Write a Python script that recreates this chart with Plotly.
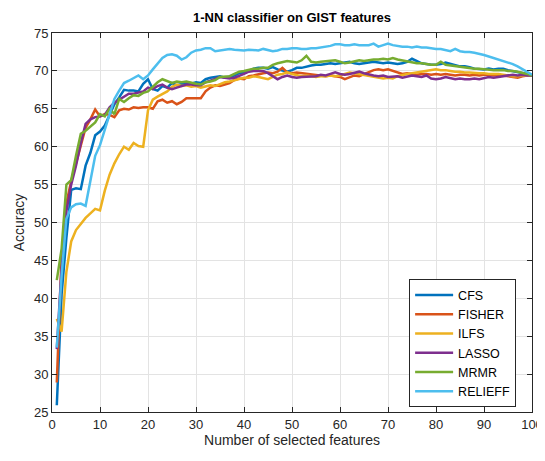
import plotly.graph_objects as go

x_features = list(range(1, 101))

cfs = [25.9, 40.5, 48.0, 54.3, 54.5, 54.4, 57.5, 59.2, 61.5, 62.0,
       62.8, 64.3, 65.6, 66.5, 67.5, 67.4, 67.4, 67.3, 68.3, 68.9,
       67.6, 67.4, 68.0, 67.8, 68.4, 68.1, 68.2, 68.4, 68.3, 68.5,
       68.4, 68.9, 69.1, 69.2, 69.3, 69.1, 69.2, 69.4, 69.7, 69.8,
       70.0, 70.3, 70.4, 70.4, 70.3, 70.5, 70.2, 70.0, 69.9, 70.1,
       70.4, 70.4, 70.6, 70.7, 70.8, 70.8, 70.9, 71.0, 70.9, 71.0,
       71.1, 71.2, 71.0, 70.9, 71.0, 71.1, 71.2, 71.1, 71.0, 71.1,
       71.0, 70.9, 71.0, 71.2, 71.6, 71.3, 71.0, 70.9, 70.8, 70.8,
       70.9, 71.1, 70.9, 70.7, 70.6, 70.6, 70.5, 70.3, 70.2, 70.2,
       70.3, 70.2, 70.3, 70.3, 70.1, 70.0, 69.9, 69.7, 69.6, 69.4]

fisher = [28.9, 45.5, 52.5, 55.5, 57.8, 60.2, 62.5, 63.6, 64.9, 64.0,
          64.3, 64.2, 63.9, 64.8, 65.0, 64.9, 65.2, 65.1, 65.2, 65.2,
          65.0, 66.0, 66.2, 65.8, 66.0, 65.6, 65.9, 66.4, 66.4, 66.4,
          66.4, 67.3, 67.8, 68.1, 68.0, 68.2, 68.4, 68.8, 69.0, 68.9,
          69.3, 69.4, 69.6, 69.7, 69.8, 69.7, 69.9, 70.4, 69.8, 69.7,
          69.8, 69.7, 69.6, 69.5, 69.5, 69.4, 69.3, 69.4, 69.3, 69.2,
          68.9, 69.2, 69.4, 69.3, 69.6, 69.9, 70.1, 70.2, 70.1, 70.2,
          70.0, 69.8, 69.6, 69.7, 69.6, 69.5, 69.6, 69.6, 69.5, 69.6,
          69.5, 69.6, 69.5, 69.4, 69.5, 69.5, 69.4, 69.5, 69.4, 69.5,
          69.5, 69.4, 69.5, 69.4, 69.3, 69.2, 69.1, 69.3, 69.4, 69.4]

ilfs = [37.3, 35.6, 43.5, 47.5, 49.0, 49.8, 50.6, 51.2, 51.8, 51.6,
        54.2, 56.3, 57.8, 59.0, 60.0, 59.6, 60.5, 60.1, 60.0, 64.8,
        66.2, 66.6, 66.9, 67.3, 67.9, 68.2, 68.0, 68.1, 67.9, 68.0,
        67.8, 68.0, 68.1, 68.0, 68.3, 68.5, 68.6, 68.8, 68.9, 69.1,
        69.1, 69.3, 69.2, 69.0, 68.9, 69.2, 69.5, 69.6, 69.8, 69.6,
        69.4, 69.3, 69.4, 69.3, 69.2, 69.3, 69.3, 69.4, 69.3, 69.4,
        69.6, 69.8, 69.7, 69.6, 69.5, 69.4, 69.2, 69.1, 69.0, 69.1,
        69.0, 69.3, 69.5, 69.6, 69.7, 69.8, 69.9, 70.0, 70.1, 70.2,
        70.1, 70.1, 70.0, 69.9, 69.9, 69.8, 69.8, 69.7, 69.7, 69.7,
        69.6, 69.6, 69.6, 69.5, 69.4, 69.3, 69.3, 69.4, 69.4, 69.4]

lasso = [33.3, 44.0, 51.5, 55.0, 57.5, 60.5, 63.0, 63.6, 63.9, 64.0,
         64.2, 65.2, 65.8, 66.2, 66.5, 67.0, 67.0, 67.2, 67.3, 67.8,
         67.6, 68.0, 68.2, 67.8, 67.6, 67.8, 68.0, 68.2, 68.2, 68.1,
         68.1, 68.5, 68.7, 68.9, 69.2, 69.1, 69.0, 69.1, 69.3, 69.6,
         69.9, 70.0, 70.0, 70.0, 69.7, 69.3, 68.9, 69.2, 69.4, 69.2,
         69.1, 69.2, 69.2, 69.3, 69.3, 69.5, 69.4, 69.6, 69.8, 69.6,
         69.5, 69.6, 69.8, 69.9, 69.7, 69.5, 69.4, 69.3, 69.4, 69.2,
         69.3, 69.3, 69.1, 69.2, 69.4, 69.3, 69.2, 69.4, 69.0, 68.9,
         69.0, 69.2, 69.0, 68.9, 69.0, 68.9, 68.9, 69.0, 68.9, 69.1,
         69.2, 69.1, 69.2, 69.3, 69.4, 69.5, 69.4, 69.5, 69.4, 69.4]

mrmr = [42.4, 46.5, 55.0, 55.6, 58.8, 61.7, 62.1, 62.7, 63.2, 64.3,
        64.0, 65.0, 64.3, 66.3, 65.9, 66.4, 66.8, 66.7, 67.1, 67.3,
        67.9, 68.5, 68.9, 68.6, 68.4, 68.6, 68.5, 68.6, 68.4, 68.3,
        68.2, 68.5, 68.6, 68.8, 69.2, 69.3, 69.3, 69.6, 69.9, 70.0,
        70.1, 70.3, 70.3, 70.4, 70.4, 70.8, 71.0, 71.1, 71.3, 71.2,
        71.1, 71.4, 72.0, 71.2, 71.1, 71.2, 71.3, 71.3, 71.4, 71.2,
        71.0, 71.1, 71.3, 71.4, 71.3, 71.4, 71.5, 71.5, 71.6, 71.5,
        71.7, 71.5, 71.4, 71.3, 71.1, 71.0, 71.0, 70.9, 70.8, 70.8,
        71.2, 70.8, 70.7, 70.6, 70.5, 70.5, 70.4, 70.3, 70.3, 70.2,
        70.2, 70.1, 70.1, 70.1, 70.0, 70.0, 69.9, 69.8, 69.6, 69.4]

relieff = [33.5, 43.0, 50.5, 52.0, 52.4, 52.5, 52.2, 55.5, 58.8, 60.2,
           62.2, 64.5, 66.3, 67.4, 68.4, 68.7, 69.1, 69.4, 68.9, 69.4,
           70.2, 71.0, 71.7, 72.1, 72.2, 72.0, 71.5, 71.8, 72.4, 72.7,
           72.8, 73.0, 73.0, 72.6, 72.7, 72.8, 72.9, 72.8, 72.7, 72.7,
           72.8, 72.8, 72.7, 72.9, 72.8, 72.6, 72.7, 72.9, 72.9, 73.0,
           73.0, 72.9, 72.9, 73.0, 73.0, 73.1, 73.2, 73.3, 73.5, 73.5,
           73.4, 73.4, 73.5, 73.4, 73.4, 73.4, 73.6, 73.2, 73.4, 73.6,
           73.4, 73.3, 73.2, 73.2, 73.1, 73.2, 73.1, 73.1, 73.0, 72.9,
           72.9, 72.7, 72.6, 72.9, 72.6, 72.5, 72.5, 72.4, 72.3, 72.1,
           71.9, 71.7, 71.5, 71.3, 71.1, 70.9, 70.6, 70.2, 69.8, 69.5]

series_names = ["CFS", "FISHER", "ILFS", "LASSO", "MRMR", "RELIEFF"]
series_values = [cfs, fisher, ilfs, lasso, mrmr, relieff]
colors = ["#0072BD", "#D95319", "#EDB120", "#7E2F8E", "#77AC30", "#4DBEEE"]

x_ticks = list(range(0, 101, 10))
y_ticks = list(range(25, 76, 5))

fig = go.Figure()
for name, vals, col in zip(series_names, series_values, colors):
    fig.add_trace(go.Scatter(x=x_features, y=vals, mode="lines", name=name,
                             line=dict(color=col, width=2.5)))

W, H = 537, 445
font_family = "Liberation Sans, Arial, Helvetica, sans-serif"
axis_common = dict(
    showgrid=True, gridcolor="#e3e3e3", gridwidth=1,
    showline=True, linecolor="#262626", linewidth=1, mirror="ticks",
    ticks="inside", ticklen=5, tickcolor="#262626",
    tickfont=dict(size=13, color="#262626", family=font_family),
    zeroline=False, automargin=False,
)

fig.update_layout(
    width=W, height=H,
    margin=dict(l=44, r=13, t=25, b=41, pad=0),
    paper_bgcolor="white", plot_bgcolor="white",
    font=dict(family=font_family, color="#262626"),
    title=dict(text="<b>1-NN classifier on GIST features</b>", x=(44 + 524) / 2 / W,
               xanchor="center", y=1 - 9 / H, yanchor="middle",
               font=dict(size=13, color="black", family=font_family), automargin=False),
    xaxis=dict(range=[0, 100], tickvals=x_ticks, title=dict(text="Number of selected features",
               font=dict(size=14, color="#262626"), standoff=4), **axis_common),
    yaxis=dict(range=[25, 75], tickvals=y_ticks, title=dict(text="Accuracy",
               font=dict(size=14, color="#262626"), standoff=6), **axis_common),
    legend=dict(x=0.744, y=0.35, xanchor="left", yanchor="top",
                bgcolor="white", bordercolor="#262626", borderwidth=1,
                font=dict(size=12.5, color="black", family=font_family),
                tracegroupgap=0, itemwidth=38),
    showlegend=True,
)

fig.write_html("out.html")
